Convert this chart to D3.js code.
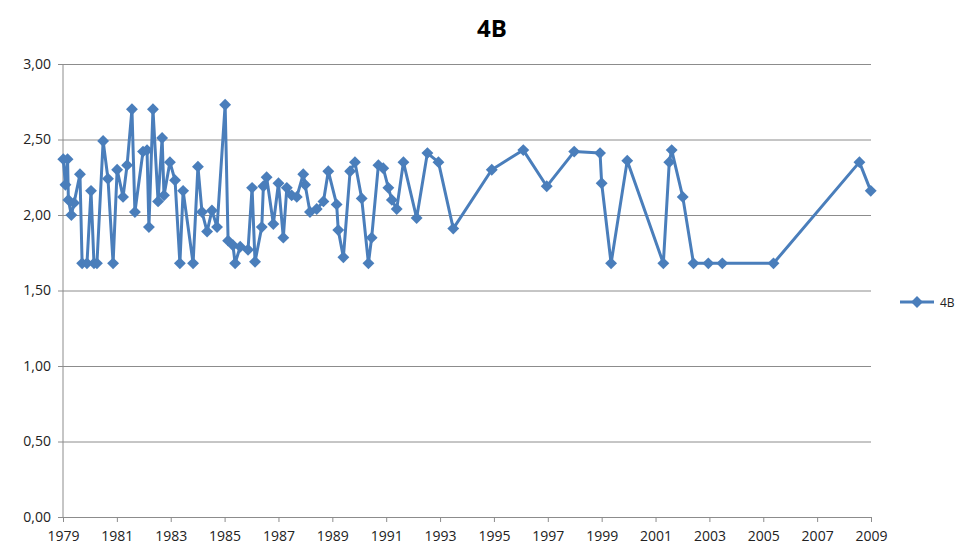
<!DOCTYPE html>
<html>
<head>
<meta charset="utf-8">
<script src="https://cdn.jsdelivr.net/npm/d3@7"></script>
<style>
  body { margin: 0; background: #fff; }
  text { font-family: "Open Sans", "DejaVu Sans", sans-serif; }
</style>
</head>
<body>
<div class="chart"></div>
<script>
const width = 964;
const height = 552;
const margin = { top: 64, right: 93, bottom: 35, left: 63 };

// decimal years (date axis) and values
const years = [
  1979.01, 1979.09, 1979.17, 1979.20, 1979.31, 1979.41, 1979.63, 1979.71, 1979.89, 1980.04,
  1980.15, 1980.26, 1980.49, 1980.67, 1980.86, 1981.01, 1981.23, 1981.38, 1981.56, 1981.67,
  1981.97, 1982.12, 1982.19, 1982.34, 1982.53, 1982.68, 1982.75, 1982.97, 1983.16, 1983.34,
  1983.46, 1983.83, 1984.01, 1984.16, 1984.35, 1984.53, 1984.72, 1985.02, 1985.13, 1985.31,
  1985.39, 1985.58, 1985.87, 1986.02, 1986.13, 1986.38, 1986.44, 1986.56, 1986.81, 1987.00,
  1987.18, 1987.31, 1987.49, 1987.68, 1987.92, 1987.99, 1988.17, 1988.42, 1988.67, 1988.85,
  1989.16, 1989.22, 1989.41, 1989.66, 1989.84, 1990.09, 1990.34, 1990.46, 1990.71, 1990.89,
  1991.08, 1991.21, 1991.39, 1991.64, 1992.13, 1992.53, 1992.94, 1993.49, 1994.92, 1996.09,
  1996.96, 1997.98, 1998.94, 1999.00, 1999.35, 1999.95, 2001.29, 2001.51, 2001.60, 2002.01,
  2002.41, 2002.96, 2003.48, 2005.38, 2008.57, 2008.99
];
const values = [
  2.37, 2.20, 2.37, 2.10, 2.00, 2.08, 2.27, 1.68, 1.68, 2.16,
  1.68, 1.68, 2.49, 2.24, 1.68, 2.30, 2.12, 2.33, 2.70, 2.02,
  2.42, 2.43, 1.92, 2.70, 2.09, 2.51, 2.13, 2.35, 2.23, 1.68,
  2.16, 1.68, 2.32, 2.02, 1.89, 2.03, 1.92, 2.73, 1.83, 1.80,
  1.68, 1.79, 1.77, 2.18, 1.69, 1.92, 2.19, 2.25, 1.94, 2.21,
  1.85, 2.18, 2.13, 2.12, 2.27, 2.20, 2.02, 2.04, 2.09, 2.29,
  2.07, 1.90, 1.72, 2.29, 2.35, 2.11, 1.68, 1.85, 2.33, 2.31,
  2.18, 2.10, 2.04, 2.35, 1.98, 2.41, 2.35, 1.91, 2.30, 2.43,
  2.19, 2.42, 2.41, 2.21, 1.68, 2.36, 1.68, 2.35, 2.43, 2.12,
  1.68, 1.68, 1.68, 1.68, 2.35, 2.16
];
const xTicks = d3.range(1979, 2010, 2);
const yTicks = [0, 0.5, 1, 1.5, 2, 2.5, 3];
const seriesName = "4B";
const title = "4B";

const lineColor = "#4a7ebb";
const gridColor = "#8c8c8c";

const svg = d3.select(".chart")
   .append("svg")
   .attr("width", width)
   .attr("height", height);

const x = d3.scaleLinear()
   .domain([1979, 2009])
   .range([margin.left, width - margin.right]);

const y = d3.scaleLinear()
   .domain([0, 3])
   .range([height - margin.bottom, margin.top]);

const fmt = (d) => d3.format(".2f")(d).replace(".", ",");

// title
svg.append("text")
   .attr("x", 492)
   .attr("y", 37)
   .attr("text-anchor", "middle")
   .attr("font-size", 24)
   .attr("font-weight", "bold")
   .attr("fill", "#000")
   .text(title);

// y axis with gridlines
const yAxis = svg.append("g")
   .attr("transform", `translate(${margin.left},0)`)
   .call(d3.axisLeft(y).tickValues(yTicks).tickFormat(fmt)
      .tickSize(-(width - margin.left - margin.right)).tickPadding(12));
yAxis.select(".domain").remove();
yAxis.selectAll(".tick line")
   .attr("x1", -5)
   .attr("stroke", gridColor);
yAxis.selectAll(".tick text")
   .attr("font-size", 14)
   .attr("fill", "#222");

// left axis line
svg.append("line")
   .attr("x1", margin.left).attr("x2", margin.left)
   .attr("y1", y(3)).attr("y2", y(0))
   .attr("stroke", gridColor);

// x axis
const xAxis = svg.append("g")
   .attr("transform", `translate(0,${y(0)})`)
   .call(d3.axisBottom(x).tickValues(xTicks).tickFormat(d3.format("d"))
      .tickSize(5).tickSizeOuter(0).tickPadding(9));
xAxis.select(".domain").attr("stroke", gridColor);
xAxis.selectAll(".tick line").attr("stroke", gridColor);
xAxis.selectAll(".tick text")
   .attr("font-size", 14)
   .attr("fill", "#222");

const data = years.map((yr, i) => ({ yr, v: values[i] }));

// series line
svg.append("path")
   .datum(data)
   .attr("fill", "none")
   .attr("stroke", lineColor)
   .attr("stroke-width", 3)
   .attr("stroke-linejoin", "round")
   .attr("d", d3.line().x((d) => x(d.yr)).y((d) => y(d.v)));

const diamond = d3.symbol().type(d3.symbolDiamond2).size(90);

svg.append("g")
   .selectAll("path")
   .data(data)
   .enter()
   .append("path")
   .attr("d", diamond)
   .attr("transform", (d) => `translate(${x(d.yr)},${y(d.v)})`)
   .attr("fill", lineColor);

// legend
const legend = svg.append("g").attr("transform", "translate(900,302)");
legend.append("line")
   .attr("x1", 0).attr("x2", 34)
   .attr("stroke", lineColor)
   .attr("stroke-width", 3);
legend.append("path")
   .attr("d", diamond)
   .attr("transform", "translate(17,0)")
   .attr("fill", lineColor);
legend.append("text")
   .attr("x", 40)
   .attr("y", 4.5)
   .attr("font-size", 12)
   .attr("fill", "#222")
   .text(seriesName);
</script>
</body>
</html>
